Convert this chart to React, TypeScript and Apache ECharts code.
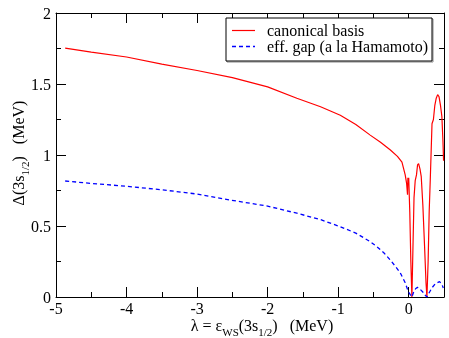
import React, { useEffect, useRef } from "react";
import * as echarts from "echarts";

const canonicalBasis: [number, number][] = [
  [-4.87, 1.753], [-4.5, 1.725], [-4, 1.69], [-3.5, 1.64], [-3, 1.595],
  [-2.5, 1.545], [-2, 1.48], [-1.586, 1.40], [-1.25, 1.34], [-0.97, 1.28],
  [-0.75, 1.215], [-0.546, 1.14], [-0.4, 1.09], [-0.26, 1.035], [-0.16, 0.99],
  [-0.096, 0.95], [-0.05, 0.86], [-0.03, 0.80], [-0.017, 0.72], [-0.012, 0.84],
  [-0.004, 0.80], [0.0, 0.84], [0.015, 0.6], [0.03, 0.25], [0.045, 0.0],
  [0.06, 0.35], [0.075, 0.7], [0.092, 0.82], [0.11, 0.86], [0.125, 0.93],
  [0.14, 0.94], [0.16, 0.9], [0.177, 0.85], [0.2, 0.65], [0.225, 0.35],
  [0.245, 0.1], [0.258, 0.0], [0.275, 0.25], [0.29, 0.6], [0.305, 0.82],
  [0.33, 1.22], [0.35, 1.25], [0.37, 1.35], [0.39, 1.4], [0.41, 1.425],
  [0.43, 1.41], [0.45, 1.35], [0.47, 1.27], [0.485, 1.1], [0.494, 0.96],
];

const effGap: [number, number][] = [
  [-4.87, 0.817], [-4.5, 0.80], [-4, 0.78], [-3.5, 0.755], [-3, 0.725],
  [-2.53, 0.683], [-2, 0.64], [-1.586, 0.59], [-1.25, 0.545], [-0.97, 0.495],
  [-0.75, 0.45], [-0.546, 0.39], [-0.45, 0.354], [-0.35, 0.31], [-0.26, 0.26],
  [-0.18, 0.21], [-0.12, 0.17], [-0.05, 0.10], [-0.014, 0.05], [0.01, 0.025],
  [0.045, 0.0], [0.07, 0.035], [0.1, 0.06], [0.125, 0.068], [0.15, 0.06],
  [0.2, 0.035], [0.235, 0.012], [0.258, 0.0], [0.29, 0.03], [0.33, 0.065],
  [0.38, 0.095], [0.437, 0.108], [0.47, 0.09], [0.49, 0.063],
];

const xMin = -5;
const xMax = 0.5;
const xMajorMax = 0;
const yMin = 0;
const yMax = 2;
const xTickLabels = [-5, -4, -3, -2, -1, 0];
const yTickLabels = [0, 0.5, 1, 1.5, 2];
const seriesNames = ["canonical basis", "eff. gap (a la Hamamoto)"];

const FONT = "Liberation Serif";

export default function App() {
  const ref = useRef<HTMLDivElement>(null);
  useEffect(() => {
    if (!ref.current) return;
    const chart = echarts.init(ref.current, undefined, { renderer: "svg" });
    const black = "#000";
    const L = 56, R = 5, T = 13, B = 41;
    const plotW = 449 - L - R;
    const majorRight = 449 - L - plotW * ((xMajorMax - xMin) / (xMax - xMin));

    const minorX = (position: "bottom" | "top") => ({
      type: "value",
      gridIndex: 0,
      position,
      min: xMin,
      max: xMax,
      interval: 0.5,
      axisLine: { show: true, onZero: false, lineStyle: { color: black, width: 1 } },
      axisTick: { show: true, inside: true, length: 5, lineStyle: { color: black, width: 1 } },
      axisLabel: { show: false },
      splitLine: { show: false },
    });
    const majorX = (position: "bottom" | "top") => ({
      type: "value",
      gridIndex: 1,
      position,
      min: xMin,
      max: xMajorMax,
      interval: 1,
      axisLine: { show: false, onZero: false },
      axisTick: { show: true, inside: true, length: 10, lineStyle: { color: black, width: 1 } },
      axisLabel: { show: false },
      splitLine: { show: false },
    });
    const yAx = (position: "left" | "right", gridIndex: number, line: boolean) => ({
      type: "value",
      gridIndex,
      position,
      min: yMin,
      max: yMax,
      interval: 0.5,
      axisLine: { show: line, onZero: false, lineStyle: { color: black, width: 1 } },
      axisTick: { show: line, inside: true, length: 10, lineStyle: { color: black, width: 1 } },
      minorTick: { show: line, splitNumber: 2, length: 5, lineStyle: { color: black, width: 1 } },
      axisLabel: { show: false },
      splitLine: { show: false },
      minorSplitLine: { show: false },
    });
    chart.setOption({
      animation: false,
      textStyle: { fontFamily: FONT, fontSize: 16, color: black },
      grid: [
        { left: L, right: R, top: T, bottom: B },
        { left: L, right: majorRight, top: T, bottom: B },
      ],
      xAxis: [minorX("bottom"), minorX("top"), majorX("bottom"), majorX("top")],
      yAxis: [yAx("left", 0, true), yAx("right", 0, true), yAx("left", 1, false)],
      series: [
        {
          name: seriesNames[0],
          type: "line",
          data: canonicalBasis,
          xAxisIndex: 0,
          yAxisIndex: 0,
          symbol: "none",
          showSymbol: false,
          lineStyle: { color: "#ff0000", width: 1.2 },
        },
        {
          name: seriesNames[1],
          type: "line",
          data: effGap,
          xAxisIndex: 0,
          yAxisIndex: 0,
          symbol: "none",
          showSymbol: false,
          lineStyle: { color: "#0000ff", width: 1.3, type: [4, 3] },
        },
      ],
    });

    // Tick labels positioned through the library's own axis scales.
    const axisBottom = chart.convertToPixel({ yAxisIndex: 0 }, yMin) as number;
    const axisLeft = chart.convertToPixel({ xAxisIndex: 0 }, xMin) as number;
    const tickText = (text: string, x: number, y: number, align: string) => ({
      type: "text",
      x,
      y,
      silent: true,
      style: { text, fontSize: 16, fontFamily: FONT, fill: black, align, verticalAlign: "middle" },
    });
    const xLabels = xTickLabels.map((v) =>
      tickText(String(v), chart.convertToPixel({ xAxisIndex: 0 }, v) as number, axisBottom + 11, "center")
    );
    const yLabels = yTickLabels.map((v) =>
      tickText(String(v), axisLeft - 5, chart.convertToPixel({ yAxisIndex: 0 }, v) as number, "right")
    );

    const rich = {
      m: { fontSize: 16, fontFamily: FONT, color: black, verticalAlign: "top" },
      s: { fontSize: 11, fontFamily: FONT, color: black, verticalAlign: "top", padding: [9, 0, 0, 0] },
    };
    const nb = "\u00a0";
    chart.setOption({
      graphic: [
        ...xLabels,
        ...yLabels,
        {
          type: "text",
          x: 262,
          y: 317,
          style: {
            text: `{m|λ = ε}{s|WS}{m|(3s}{s|1/2}{m|)${nb}${nb}${nb}(MeV)}`,
            rich,
            align: "center",
            verticalAlign: "top",
          },
        },
        {
          type: "text",
          x: 10,
          y: 153,
          rotation: Math.PI / 2,
          style: {
            text: `{m|Δ(3s}{s|1/2}{m|)${nb}${nb}${nb}(MeV)}`,
            rich,
            align: "center",
            verticalAlign: "top",
          },
        },
        {
          type: "rect",
          shape: { x: 227, y: 19, width: 206, height: 43 },
          style: { fill: "none", stroke: "#888", lineWidth: 1 },
          z: 100,
        },
        {
          type: "rect",
          shape: { x: 226, y: 18, width: 206, height: 43 },
          style: { fill: "#fff", stroke: black, lineWidth: 1 },
          z: 101,
        },
        {
          type: "line",
          shape: { x1: 232, y1: 30.5, x2: 255, y2: 30.5 },
          style: { stroke: "#ff0000", lineWidth: 1.2 },
          z: 102,
        },
        {
          type: "line",
          shape: { x1: 232, y1: 46.5, x2: 255, y2: 46.5 },
          style: { stroke: "#0000ff", lineWidth: 1.3, lineDash: [4, 3] },
          z: 102,
        },
        {
          type: "text",
          x: 267,
          y: 30,
          style: { text: seriesNames[0], fontSize: 16, fontFamily: FONT, fill: black, verticalAlign: "middle" },
          z: 102,
        },
        {
          type: "text",
          x: 267,
          y: 46.5,
          style: { text: seriesNames[1], fontSize: 16, fontFamily: FONT, fill: black, verticalAlign: "middle" },
          z: 102,
        },
      ],
    });
    return () => chart.dispose();
  }, []);
  return <div ref={ref} style={{ position: "fixed", left: 0, top: 0, width: 449, height: 338 }} />;
}
